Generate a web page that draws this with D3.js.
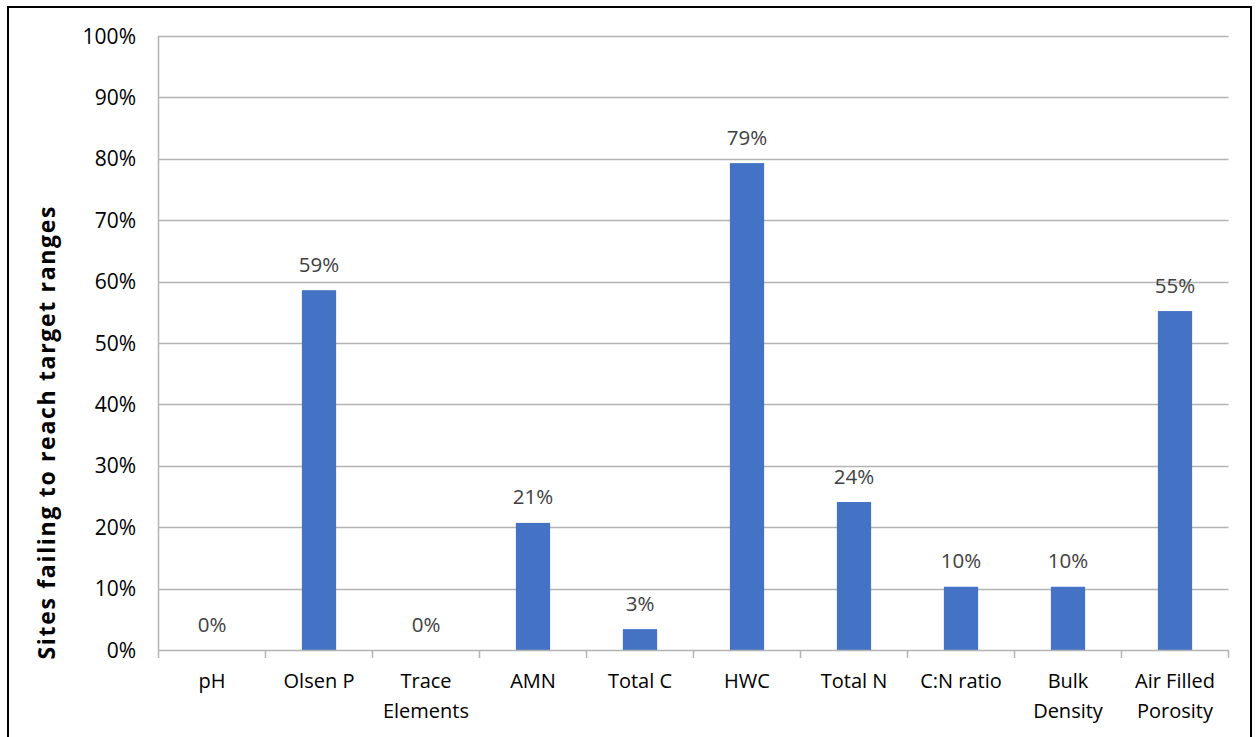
<!DOCTYPE html>
<html><head><meta charset="utf-8">
<script src="https://cdn.jsdelivr.net/npm/d3@7"></script>
<style>body{margin:0;background:#fff}</style>
</head><body><svg id="c" width="1257" height="737"></svg>
<script>
const categories = [["pH"],["Olsen P"],["Trace","Elements"],["AMN"],["Total C"],["HWC"],["Total N"],["C:N ratio"],["Bulk","Density"],["Air Filled","Porosity"]];
const values = [0, 0.586, 0, 0.207, 0.034, 0.793, 0.241, 0.103, 0.103, 0.552];
const labels = ["0%","59%","0%","21%","3%","79%","24%","10%","10%","55%"];
const yTicks = [0,0.1,0.2,0.3,0.4,0.5,0.6,0.7,0.8,0.9,1.0];

const svg = d3.select("#c");
const L=158.5, R=1228.5, T=36, B=650;
svg.append("rect").attr("x",8).attr("y",7).attr("width",1243).attr("height",740)
  .attr("fill","none").attr("stroke","#000").attr("stroke-width",2);

const x = d3.scaleBand().domain(d3.range(categories.length)).range([L,R]).paddingInner(0.68).paddingOuter(0.34);
const xb = d3.scaleBand().domain(d3.range(categories.length)).range([L,R]);
const y = d3.scaleLinear().domain([0,1]).range([B,T]);

svg.append("g").selectAll("line").data(yTicks.slice(1)).join("line")
  .attr("x1",L).attr("x2",R).attr("y1",d=>Math.round(y(d))+0.5).attr("y2",d=>Math.round(y(d))+0.5)
  .attr("stroke","#b3b3b3").attr("stroke-width",1.5);
svg.append("line").attr("x1",L).attr("x2",L).attr("y1",T).attr("y2",B).attr("stroke","#b3b3b3").attr("stroke-width",1.5);
svg.append("g").selectAll("text").data(yTicks).join("text")
  .attr("x",136).attr("y",d=>y(d)).attr("dy","0.36em").attr("text-anchor","end")
  .attr("font-family","Open Sans, sans-serif").attr("font-size",21).attr("fill","#000")
  .text(d=>d3.format(".0%")(d));

svg.append("g").selectAll("rect").data(values).join("rect")
  .attr("x",(d,i)=>x(i)).attr("width",x.bandwidth())
  .attr("y",d=>y(d)).attr("height",d=>B-y(d)).attr("fill","#4472c4");

svg.append("line").attr("x1",L).attr("x2",R).attr("y1",B+0.5).attr("y2",B+0.5).attr("stroke","#b3b3b3").attr("stroke-width",1.5);
svg.append("g").selectAll("line").data(d3.range(categories.length+1)).join("line")
  .attr("x1",i=>i<categories.length?xb(i):R).attr("x2",i=>i<categories.length?xb(i):R)
  .attr("y1",B).attr("y2",B+8).attr("stroke","#b3b3b3").attr("stroke-width",1.5);

svg.append("g").selectAll("text").data(values).join("text")
  .attr("x",(d,i)=>xb(i)+xb.bandwidth()/2).attr("y",d=>y(d)-18.5)
  .attr("text-anchor","middle").attr("font-family","Open Sans, sans-serif").attr("font-size",20.5)
  .attr("fill","#404040").text((d,i)=>labels[i]);

const cg = svg.append("g").selectAll("text").data(categories).join("text")
  .attr("text-anchor","middle").attr("font-family","Open Sans, sans-serif").attr("font-size",20).attr("fill","#000");
cg.selectAll("tspan").data((d,i)=>d.map(s=>({s,i}))).join("tspan")
  .attr("x",d=>xb(d.i)+xb.bandwidth()/2).attr("y",(d,j)=>688+j*30).text(d=>d.s);

svg.append("text").attr("transform","translate(55,433) rotate(-90)").attr("text-anchor","middle")
  .attr("font-family","Open Sans, sans-serif").attr("font-weight","bold").attr("font-size",23).attr("fill","#000")
  .attr("textLength",453).attr("lengthAdjust","spacing")
  .text("Sites failing to reach target ranges");
</script></body></html>
